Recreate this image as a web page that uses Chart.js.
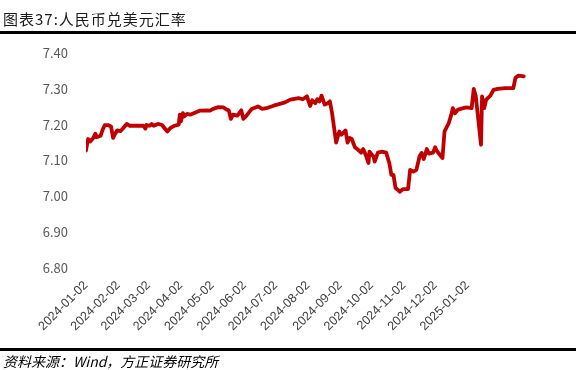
<!DOCTYPE html>
<html>
<head>
<meta charset="utf-8">
<script src="https://cdn.jsdelivr.net/npm/chart.js@4.4.1/dist/chart.umd.min.js"></script>
<style>
  html, body { margin: 0; padding: 0; background: #fff; }
  #wrap { position: relative; width: 576px; height: 370px; overflow: hidden; background: #fff; }
  #c { position: absolute; left: 0; top: 0; }
  #title { position: absolute; left: 3px; top: 8px; font-family: "Noto Sans CJK SC", sans-serif; font-size: 15px; letter-spacing: 1px; color: #1a1a1a; white-space: nowrap; }
  .rule { position: absolute; left: 0; width: 576px; height: 3px; background: #000; }
  #src { position: absolute; left: 3px; top: 351px; font-family: "Noto Sans CJK SC", sans-serif; font-size: 14px; font-style: italic; color: #000; white-space: nowrap; }
</style>
</head>
<body>
<div id="wrap">
  <canvas id="c" width="576" height="370"></canvas>
  <div id="title">图表37:人民币兑美元汇率</div>
  <div class="rule" style="top:31px"></div>
  <div class="rule" style="top:348px"></div>
  <div id="src">资料来源：Wind，方正证券研究所</div>
</div>
<script>
const dates = [
  '2024-01-02','2024-01-04','2024-01-06','2024-01-09','2024-01-11','2024-01-12','2024-01-16','2024-01-18','2024-01-20','2024-01-23',
  '2024-01-26','2024-01-28','2024-01-30','2024-02-01','2024-02-04','2024-02-06','2024-02-10','2024-02-13','2024-02-16','2024-02-26',
  '2024-02-28','2024-02-29','2024-03-03','2024-03-05','2024-03-07','2024-03-11','2024-03-15','2024-03-18','2024-03-20','2024-03-23',
  '2024-03-27','2024-03-31','2024-04-01','2024-04-02','2024-04-04','2024-04-05','2024-04-08','2024-04-11','2024-04-16','2024-04-20',
  '2024-04-27','2024-04-30','2024-05-03','2024-05-08','2024-05-13','2024-05-16','2024-05-18','2024-05-20','2024-05-22','2024-05-26',
  '2024-05-28','2024-05-30','2024-06-01','2024-06-04','2024-06-09','2024-06-15','2024-06-19','2024-06-23','2024-06-30','2024-07-06',
  '2024-07-11','2024-07-16','2024-07-24','2024-07-28','2024-08-01','2024-08-04','2024-08-06','2024-08-09','2024-08-11','2024-08-13',
  '2024-08-15','2024-08-18','2024-08-21','2024-08-23','2024-08-25','2024-08-29','2024-09-01','2024-09-03','2024-09-07','2024-09-09',
  '2024-09-11','2024-09-13','2024-09-16','2024-09-19','2024-09-22','2024-09-24','2024-09-27','2024-09-29','2024-09-30','2024-10-04',
  '2024-10-05','2024-10-08','2024-10-12','2024-10-16','2024-10-19','2024-10-21','2024-10-23','2024-10-25','2024-10-28','2024-10-29',
  '2024-11-01','2024-11-06','2024-11-08','2024-11-11','2024-11-14','2024-11-17','2024-11-19','2024-11-21','2024-11-24','2024-11-26',
  '2024-11-30','2024-12-02','2024-12-04','2024-12-09','2024-12-11','2024-12-15','2024-12-17','2024-12-19','2024-12-21','2024-12-24',
  '2024-12-29','2025-01-01','2025-01-06','2025-01-08','2025-01-10','2025-01-15','2025-01-16','2025-01-18','2025-01-20','2025-01-24',
  '2025-01-27','2025-01-31','2025-02-07','2025-02-15','2025-02-17','2025-02-20','2025-02-25'
];
const rates = [
  7.128,7.160,7.153,7.163,7.175,7.165,7.169,7.186,7.199,7.199,
  7.195,7.163,7.175,7.184,7.182,7.188,7.202,7.197,7.197,7.197,
  7.189,7.199,7.197,7.202,7.197,7.202,7.199,7.188,7.181,7.191,
  7.197,7.200,7.228,7.209,7.232,7.223,7.230,7.228,7.234,7.239,
  7.240,7.239,7.244,7.249,7.248,7.242,7.240,7.216,7.228,7.225,
  7.232,7.240,7.216,7.225,7.244,7.251,7.244,7.246,7.253,7.258,
  7.262,7.270,7.274,7.271,7.279,7.252,7.268,7.260,7.271,7.265,
  7.281,7.256,7.260,7.265,7.234,7.150,7.181,7.172,7.184,7.150,
  7.163,7.160,7.137,7.130,7.122,7.132,7.111,7.093,7.125,7.110,
  7.097,7.122,7.125,7.122,7.093,7.060,7.060,7.023,7.016,7.013,
  7.020,7.020,7.074,7.069,7.074,7.111,7.121,7.104,7.132,7.119,
  7.122,7.137,7.125,7.107,7.181,7.204,7.223,7.246,7.232,7.242,
  7.246,7.248,7.246,7.300,7.279,7.144,7.279,7.246,7.270,7.281,
  7.297,7.300,7.302,7.302,7.330,7.337,7.335
];
const tickLabels = [
  '2024-01-02','2024-02-02','2024-03-02','2024-04-02','2024-05-02','2024-06-02','2024-07-02',
  '2024-08-02','2024-09-02','2024-10-02','2024-11-02','2024-12-02','2025-01-02'
];
const yTicks = [6.80, 6.90, 7.00, 7.10, 7.20, 7.30, 7.40];

const DAY = 86400000;
const base = Date.parse(tickLabels[0]);
const toDay = d => (Date.parse(d) - base) / DAY;
const points = dates.map((d, i) => ({ x: toDay(d), y: rates[i] }));
const tickDays = tickLabels.map(toDay);

new Chart(document.getElementById('c'), {
  type: 'line',
  data: {
    datasets: [{
      data: points,
      borderColor: '#C00000',
      borderWidth: 3.8,
      pointRadius: 0,
      tension: 0,
      fill: false,
      borderJoinStyle: 'round',
      borderCapStyle: 'round'
    }]
  },
  options: {
    responsive: false,
    animation: false,
    devicePixelRatio: 1,
    layout: { padding: { top: 53, right: 46, left: 0, bottom: 0 } },
    plugins: { legend: { display: false }, tooltip: { enabled: false } },
    scales: {
      x: {
        type: 'linear',
        min: 0,
        max: 426,
        grid: { display: false, drawTicks: false },
        border: { display: false },
        afterBuildTicks: s => { s.ticks = tickDays.map(v => ({ value: v })); },
        afterFit: s => { s.height = 102; },
        ticks: {
          autoSkip: false,
          minRotation: 45,
          maxRotation: 45,
          padding: 10,
          color: '#404040',
          font: { family: 'Liberation Sans, Arial, sans-serif', size: 12.5 },
          callback: (v, i) => tickLabels[i]
        }
      },
      y: {
        min: yTicks[0],
        max: yTicks[yTicks.length - 1],
        grid: { display: false, drawTicks: false },
        border: { display: false },
        afterBuildTicks: s => { s.ticks = yTicks.map(v => ({ value: v })); },
        afterFit: s => { s.width = 86; },
        ticks: {
          padding: 18,
          color: '#595959',
          font: { family: 'Noto Sans CJK SC, sans-serif', size: 13 },
          callback: v => v.toFixed(2)
        }
      }
    }
  }
});
</script>
</body>
</html>
